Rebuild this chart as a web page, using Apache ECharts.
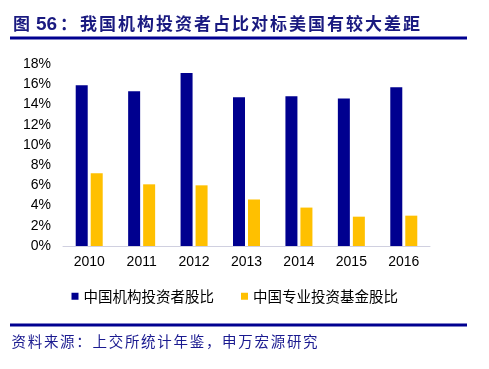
<!DOCTYPE html>
<html><head><meta charset="utf-8">
<script src="https://cdn.jsdelivr.net/npm/echarts@6/dist/echarts.min.js"></script>
<style>html,body{margin:0;padding:0;background:#fff}#c{width:489px;height:369px}</style>
</head><body><div id="c"></div>
<script>
const categories = ['2010','2011','2012','2013','2014','2015','2016'];
const institutional = [15.9, 15.3, 17.1, 14.7, 14.8, 14.6, 15.7];
const funds = [7.2, 6.1, 6.0, 4.6, 3.8, 2.9, 3.0];
const seriesNames = ['中国机构投资者股比','中国专业投资基金股比'];
const titlePrefix = '图';
const titleNum = '56';
const titleBody = '：我国机构投资者占比对标美国有较大差距';
const sourceText = '资料来源：上交所统计年鉴，申万宏源研究';

const graphics = [];
const titleStyle = {fontSize: 17, fontWeight: 'bold', fill: '#1a1a80', fontFamily: 'Noto Sans CJK SC'};
graphics.push({type: 'text', left: 13, top: 15, style: Object.assign({text: titlePrefix}, titleStyle)});
graphics.push({type: 'text', left: 36, top: 15, style: Object.assign({text: titleNum}, titleStyle, {fontSize: 19, fontFamily: 'Liberation Sans'})});
Array.from(titleBody).forEach((ch, i) => {
  graphics.push({type: 'text', left: (i === 0 ? 60 : 80 + (i - 1) * 19), top: 15, style: Object.assign({text: ch}, titleStyle)});
});
Array.from(sourceText).forEach((ch, i) => {
  graphics.push({type: 'text', left: 11.5 + i * 16.2, top: 334, style: {text: ch, fontSize: 14.5, fill: '#1a1a90', fontFamily: 'Noto Sans CJK SC'}});
});
graphics.push({type: 'rect', shape: {x: 10, y: 36.5, width: 457, height: 3}, style: {fill: '#000090'}});
graphics.push({type: 'rect', shape: {x: 10, y: 323.5, width: 457, height: 3}, style: {fill: '#000090'}});

const chart = echarts.init(document.getElementById('c'));
chart.setOption({
  animation: false,
  backgroundColor: '#fff',
  textStyle: {fontFamily: 'Liberation Sans, Arial, sans-serif'},
  grid: {left: 63, right: 59, top: 64, bottom: 123, containLabel: false},
  legend: {
    data: seriesNames, left: 71.5, top: 289, padding: 0, icon: 'rect', itemWidth: 7, itemHeight: 7,
    itemGap: 27,
    textStyle: {fontSize: 14.5, color: '#000', fontFamily: 'Noto Sans CJK SC'}
  },
  xAxis: {
    type: 'category', data: categories,
    axisLine: {lineStyle: {color: '#d0d0e0', width: 1}},
    axisTick: {show: false},
    axisLabel: {fontSize: 14, color: '#000', margin: 9}
  },
  yAxis: {
    type: 'value', min: 0, max: 18, interval: 2,
    splitLine: {show: false},
    axisLine: {show: false}, axisTick: {show: false},
    axisLabel: {fontSize: 14, color: '#000', margin: 12, formatter: v => v + '%'}
  },
  series: [
    {name: seriesNames[0], type: 'bar', data: institutional, barWidth: 12, barGap: '25%', itemStyle: {color: '#00008f'}},
    {name: seriesNames[1], type: 'bar', data: funds, barWidth: 12, itemStyle: {color: '#ffc000'}}
  ],
  graphic: graphics
});
</script></body></html>
